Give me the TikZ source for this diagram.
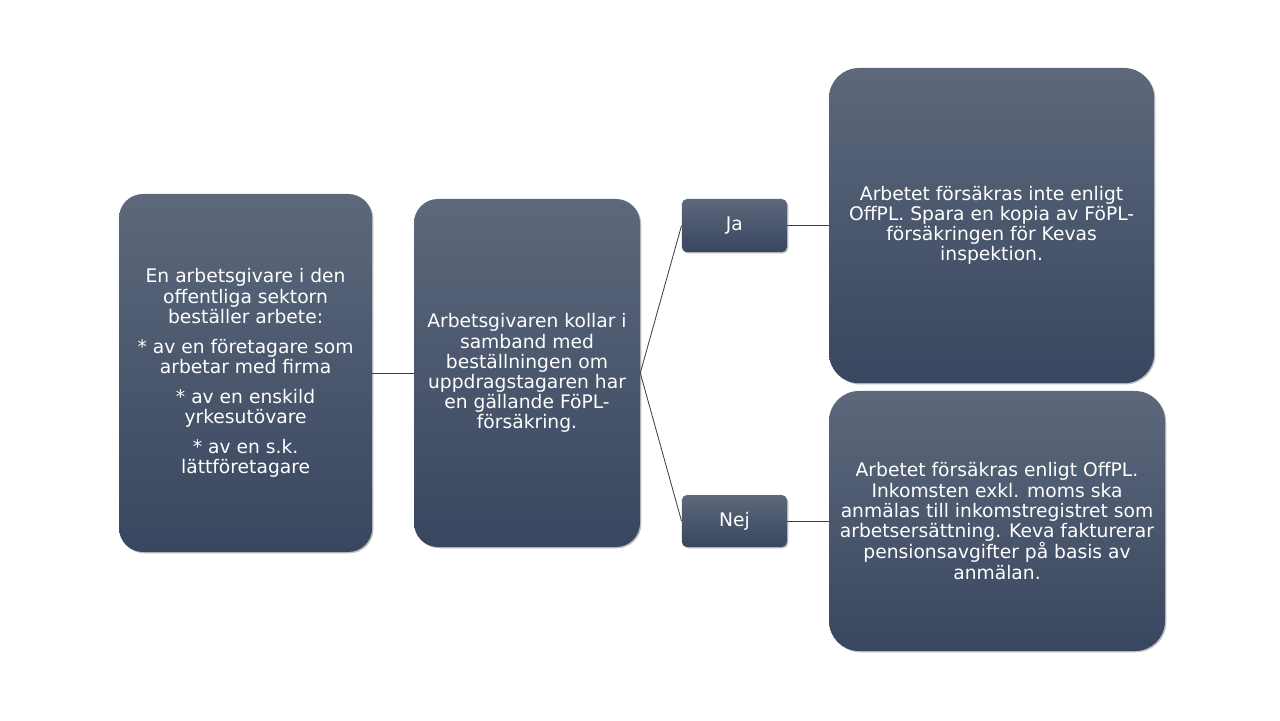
\documentclass[tikz,border=0pt]{standalone}
\usepackage{fontspec}
\setmainfont{DejaVu Sans}
\usepackage{xcolor}
\usepackage{tikz}
\usetikzlibrary{positioning, shadows}

\definecolor{slatetop}{HTML}{5D687B}
\definecolor{slatebot}{HTML}{38465F}

\begin{document}
\begin{tikzpicture}[
      box/.style={rounded corners=0.6cm, align=center, text=white,
                  top color=slatetop, bottom color=slatebot, draw=none,
                  font=\fontsize{13.3}{14.3}\selectfont, inner sep=3pt,
                  drop shadow={shadow xshift=0.9pt, shadow yshift=-0.9pt,
                               opacity=0.25, fill=black}},
      big/.style={box},
      ans/.style={box, rounded corners=0.13cm},
      res/.style={box, rounded corners=0.75cm},
      link/.style={line width=0.6pt, draw=black!75},
      x=1cm, y=1cm]
    \useasboundingbox (0,0) rectangle (32,18);
    % nodes (pixel layout / 40)
    \node[big, minimum width=6.33cm, minimum height=8.95cm] (giver) at (6.14,8.675)
      {En arbetsgivare i den\\offentliga sektorn\\beställer arbete:\\[7pt]
       * av en företagare som\\arbetar med firma\\[7pt]
       * av en enskild\\yrkesutövare\\[7pt]
       * av en s.k.\\lättföretagare};
    \node[big, minimum width=5.65cm, minimum height=8.7cm] (check) at (13.175,8.675)
      {Arbetsgivaren kollar i\\samband med\\beställningen om\\uppdragstagaren har\\en gällande FöPL-\\försäkring.};
    \node[ans, minimum width=2.63cm, minimum height=1.33cm] (ja) at (18.36,12.36) {Ja};
    \node[ans, minimum width=2.63cm, minimum height=1.3cm] (nej) at (18.36,4.975) {Nej};
    \node[res, minimum width=8.13cm, minimum height=7.88cm] (notins) at (24.79,12.36)
      {Arbetet försäkras inte enligt\\OffPL. Spara en kopia av FöPL-\\försäkringen för Kevas\\inspektion.};
    \node[res, minimum width=8.4cm, minimum height=6.5cm] (ins) at (24.925,4.975)
      {Arbetet försäkras enligt OffPL.\\Inkomsten exkl. moms ska\\anmälas till inkomstregistret som\\arbetsersättning. Keva fakturerar\\pensionsavgifter på basis av\\anmälan.};
    % connectors
    \draw[link] (giver) -- (check);
    \draw[link] (check.east) -- (ja.west);
    \draw[link] (check.east) -- (nej.west);
    \draw[link] (ja) -- (ja -| notins.west);
    \draw[link] (nej) -- (nej -| ins.west);
  \end{tikzpicture}
\end{document}
